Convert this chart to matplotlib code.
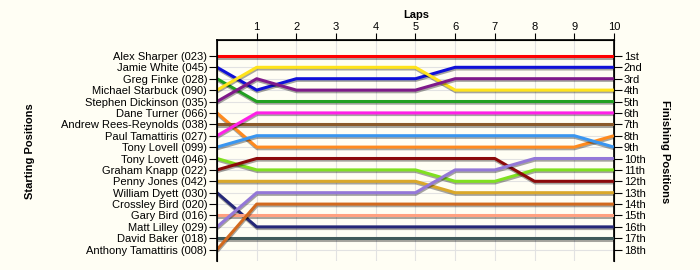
import numpy as np
from matplotlib import pyplot as plt
import matplotlib.patheffects as pe

laps = list(range(0, 11))

drivers = ['Alex Sharper (023)', 'Jamie White (045)', 'Greg Finke (028)', 'Michael Starbuck (090)',
           'Stephen Dickinson (035)', 'Dane Turner (066)', 'Andrew Rees-Reynolds (038)',
           'Paul Tamattiris (027)', 'Tony Lovell (099)', 'Tony Lovett (046)', 'Graham Knapp (022)',
           'Penny Jones (042)', 'William Dyett (030)', 'Crossley Bird (020)', 'Gary Bird (016)',
           'Matt Lilley (029)', 'David Baker (018)', 'Anthony Tamattiris (008)']

finish_labels = ['1st', '2nd', '3rd', '4th', '5th', '6th', '7th', '8th', '9th', '10th',
                 '11th', '12th', '13th', '14th', '15th', '16th', '17th', '18th']

# position of each driver at laps 0..10 (None = no line drawn)
positions = [
    [1, 1, 1, 1, 1, 1, 1, 1, 1, 1, 1],
    [2, 4, 3, 3, 3, 3, 2, 2, 2, 2, 2],
    [3, 5, 5, 5, 5, 5, 5, 5, 5, 5, 5],
    [4, 2, 2, 2, 2, 2, 4, 4, 4, 4, 4],
    [5, 3, 4, 4, 4, 4, 3, 3, 3, 3, 3],
    [6, 9, 9, 9, 9, 9, 9, 9, 9, 9, 8],
    [7, 7, 7, 7, 7, 7, 7, 7, 7, 7, 7],
    [8, 6, 6, 6, 6, 6, 6, 6, 6, 6, 6],
    [9, 8, 8, 8, 8, 8, 8, 8, 8, 8, 9],
    [10, 11, 11, 11, 11, 11, 12, 12, 11, 11, 11],
    [11, 10, 10, 10, 10, 10, 10, 10, 12, 12, 12],
    [12, 12, 12, 12, 12, 12, 13, 13, 13, 13, 13],
    [13, 16, 16, 16, 16, 16, 16, 16, 16, 16, 16],
    None,
    [15, 15, 15, 15, 15, 15, 15, 15, 15, 15, 15],
    [16, 13, 13, 13, 13, 13, 11, 11, 10, 10, 10],
    [17, 17, 17, 17, 17, 17, 17, 17, 17, 17, 17],
    [18, 14, 14, 14, 14, 14, 14, 14, 14, 14, 14],
]

colors = ['#FF0000', '#1010D8', '#22A022', '#FFE31A', '#7F1A8A', '#FF8A1E', '#8B5A2B',
          '#FF20E8', '#3A96F0', '#80E020', '#8B0A0A', '#DAA82A', '#252878', '#C0C0C0',
          '#FFA080', '#9478D8', '#405A5A', '#D2691E']

bg = '#FFFEF4'
plt.rcParams['font.family'] = ['Liberation Sans', 'DejaVu Sans']

fig = plt.figure(figsize=(7, 2.7), dpi=100, facecolor=bg)
ax = fig.add_axes([0.31, 0.033, 0.567, 0.819], facecolor=bg)

for pos, c in zip(positions, colors):
    if pos is None:
        continue
    ax.plot(laps, pos, color=c, lw=2.2, solid_capstyle='butt', zorder=3,
            path_effects=[pe.SimpleLineShadow(offset=(0.3, -1.2), alpha=0.35), pe.Normal()])

ax.set_xlim(0, 10)
ax.set_ylim(19, -0.4)

ax.xaxis.tick_top()
ax.set_xticks(range(1, 11))
ax.set_xticklabels([str(i) for i in range(1, 11)], fontsize=8)
ax.set_yticks(range(1, 19))
ax.set_yticklabels(drivers, fontsize=8)
ax.tick_params(axis='x', length=5, pad=1)
ax.tick_params(axis='y', length=6, pad=1)
ax.grid(True, color='#E2E2E2', lw=0.8, zorder=0)
ax.set_axisbelow(True)

ax.spines['bottom'].set_visible(False)
for s in ['left', 'right', 'top']:
    ax.spines[s].set_linewidth(1.2)

ax2 = ax.twinx()
ax2.set_ylim(19, -0.4)
ax2.set_yticks(range(1, 19))
ax2.set_yticklabels(finish_labels, fontsize=8)
ax2.tick_params(axis='y', length=6, pad=1)
ax2.spines['bottom'].set_visible(False)

fig.text(0.594, 0.945, 'Laps', ha='center', va='center', fontsize=8, fontweight='bold')
fig.text(0.043, 0.44, 'Starting Positions', ha='center', va='center', rotation=90,
         fontsize=8, fontweight='bold')
fig.text(0.95, 0.44, 'Finishing Positions', ha='center', va='center', rotation=270,
         fontsize=8, fontweight='bold')

fig.savefig('out.png', dpi=100, facecolor=bg)
